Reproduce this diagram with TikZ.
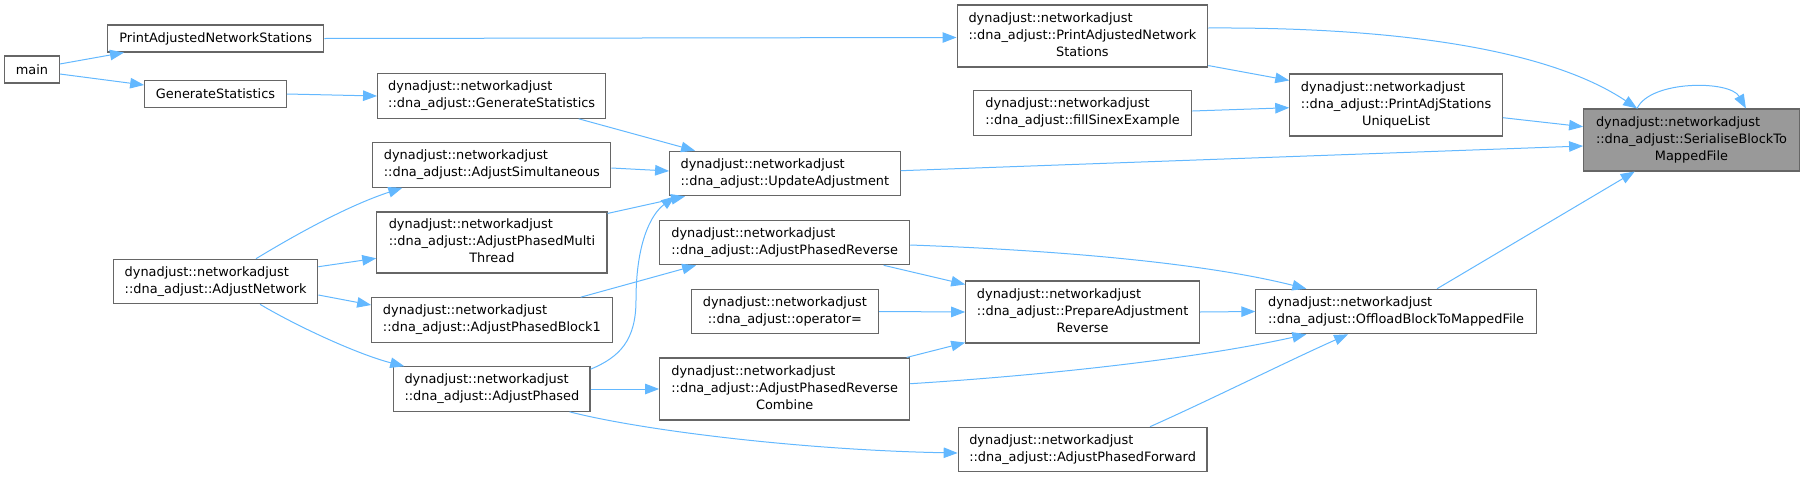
\documentclass[tikz,border=0pt]{standalone}
\usepackage{fontspec}
\setmainfont{DejaVu Sans}
\usetikzlibrary{arrows.meta}

% Texto de nodo: lineas a la izquierda, la ultima centrada
\newcommand{\fntwo}[2]{\begin{tabular}{@{}l@{}}#1\\\multicolumn{1}{@{}c@{}}{#2}\end{tabular}}
\newcommand{\fnthree}[3]{\begin{tabular}{@{}l@{}}#1\\#2\\\multicolumn{1}{@{}c@{}}{#3}\end{tabular}}

\begin{document}
\begin{tikzpicture}[x=1pt, y=-1pt,
    fnbox/.style={draw=dxgray, line width=1.1pt, fill=white, inner sep=0pt,
        font=\fontsize{12.9pt}{17pt}\selectfont},
    oneline/.style={minimum height=27pt},
    twoline/.style={minimum height=44.5pt},
    threeline/.style={minimum height=62pt},
    call/.style={draw=dxblue, line width=1pt, -{Triangle[length=14pt, width=10.5pt]}}
]

% Colores
\definecolor{dxblue}{HTML}{63B8FF}
\definecolor{dxgray}{HTML}{666666}
\definecolor{dxfill}{HTML}{999999}

\useasboundingbox (0,0) rectangle (1804,477);

% ============ Columna 1 y 2 ============
\node[fnbox, oneline, minimum width=54.6pt] (main) at (32,69.5) {main};
\node[fnbox, oneline, minimum width=216.3pt] (pans) at (215.7,38.5) {PrintAdjustedNetworkStations};
\node[fnbox, oneline, minimum width=141.6pt] (gs) at (215.5,94) {GenerateStatistics};
\node[fnbox, twoline, minimum width=204.4pt] (dnet) at (215.7,281.5)
    {\fntwo{dynadjust::networkadjust}{::dna\_adjust::AdjustNetwork}};

% ============ Columna 3 ============
\node[fnbox, twoline, minimum width=228.2pt] (dgs) at (491.7,96)
    {\fntwo{dynadjust::networkadjust}{::dna\_adjust::GenerateStatistics}};
\node[fnbox, twoline, minimum width=238pt] (dsim) at (491.9,165)
    {\fntwo{dynadjust::networkadjust}{::dna\_adjust::AdjustSimultaneous}};
\node[fnbox, threeline, minimum width=230.2pt, minimum height=61pt] (dmulti) at (491.9,242.5)
    {\fnthree{dynadjust::networkadjust}{::dna\_adjust::AdjustPhasedMulti}{Thread}};
\node[fnbox, twoline, minimum width=240.4pt] (dblock1) at (491.9,320)
    {\fntwo{dynadjust::networkadjust}{::dna\_adjust::AdjustPhasedBlock1}};
\node[fnbox, twoline, minimum width=196.2pt] (dphased) at (491.9,389)
    {\fntwo{dynadjust::networkadjust}{::dna\_adjust::AdjustPhased}};

% ============ Columna 4 ============
\node[fnbox, twoline, minimum width=230.5pt] (dupd) at (784.9,173.5)
    {\fntwo{dynadjust::networkadjust}{::dna\_adjust::UpdateAdjustment}};
\node[fnbox, twoline, minimum width=250pt] (drev) at (784.7,242.5)
    {\fntwo{dynadjust::networkadjust}{::dna\_adjust::AdjustPhasedReverse}};
\node[fnbox, twoline, minimum width=187.1pt] (dop) at (784.9,311.5)
    {\fntwo{dynadjust::networkadjust}{::dna\_adjust::operator=}};
\node[fnbox, threeline, minimum width=250pt] (dcomb) at (784.7,389)
    {\fnthree{dynadjust::networkadjust}{::dna\_adjust::AdjustPhasedReverse}{Combine}};

% ============ Columna 5 ============
\node[fnbox, threeline, minimum width=250.7pt] (dpans) at (1082.4,36)
    {\fnthree{dynadjust::networkadjust}{::dna\_adjust::PrintAdjustedNetwork}{Stations}};
\node[fnbox, twoline, minimum width=218.6pt] (dfill) at (1082.6,113)
    {\fntwo{dynadjust::networkadjust}{::dna\_adjust::fillSinexExample}};
\node[fnbox, threeline, minimum width=233.7pt] (dprep) at (1082.6,312)
    {\fnthree{dynadjust::networkadjust}{::dna\_adjust::PrepareAdjustment}{Reverse}};
\node[fnbox, twoline, minimum width=248.8pt] (dfwd) at (1082.6,449.5)
    {\fntwo{dynadjust::networkadjust}{::dna\_adjust::AdjustPhasedForward}};

% ============ Columnas 6 y 7 ============
\node[fnbox, threeline, minimum width=212.6pt] (duniq) at (1396.1,105)
    {\fnthree{dynadjust::networkadjust}{::dna\_adjust::PrintAdjStations}{UniqueList}};
\node[fnbox, twoline, minimum width=280.4pt] (doff) at (1396.1,311.5)
    {\fntwo{dynadjust::networkadjust}{::dna\_adjust::OffloadBlockToMappedFile}};
\node[fnbox, threeline, minimum width=215.7pt, fill=dxfill] (dser) at (1691.5,140)
    {\fnthree{dynadjust::networkadjust}{::dna\_adjust::SerialiseBlockTo}{MappedFile}};

% Llamadas desde main
\draw[call] ([yshift=5.5pt]main.east) -- ([xshift=17pt]pans.south west);
\draw[call] ([yshift=-4.5pt]main.east) -- ([yshift=9pt]gs.west);
\draw[call] (pans.east) -- ([yshift=-1.5pt]dpans.west);
\draw[call] (gs.east) -- (dgs.west);

% Llamadas desde AdjustNetwork
\draw[call] ([xshift=40.3pt]dnet.north) .. controls (300,232) and (350,205) .. ([xshift=30pt]dsim.south west);
\draw[call] ([yshift=14.8pt]dnet.east) -- ([yshift=-15.8pt]dmulti.west);
\draw[call] ([yshift=-13.5pt]dnet.east) -- ([yshift=15pt]dblock1.west);
\draw[call] ([xshift=44.3pt]dnet.south) .. controls (300,328) and (360,355) .. ([xshift=11pt]dphased.north west);

% Hacia UpdateAdjustment
\draw[call] ([xshift=87pt]dgs.south) -- ([xshift=26pt]dupd.north west);
\draw[call] ([yshift=-3pt]dsim.east) -- ([yshift=2.5pt]dupd.west);
\draw[call] ([yshift=-2pt]dmulti.north east) -- ([xshift=16pt]dupd.south west);
\draw[call] ([yshift=-3pt]dphased.north east) .. controls (620,357) and (636,340) .. (636,300)
    .. controls (636,245) and (650,215) .. ([xshift=6pt]dupd.south west);

% Fases inversa, combinada y directa
\draw[call] ([xshift=-32pt]dblock1.north east) -- ([xshift=37pt]drev.south west);
\draw[call] (dphased.east) -- (dcomb.west);
\draw[call] ([xshift=-21pt]dphased.south east) .. controls (640,430) and (800,450) .. ([yshift=-3.5pt]dfwd.west);
\draw[call] ([xshift=-26.6pt]drev.south east) -- ([yshift=-4pt]dprep.north west);
\draw[call] (dop.east) -- (dprep.west);
\draw[call] ([xshift=-3.6pt]dcomb.north east) -- ([yshift=1pt]dprep.south west);

% Hacia OffloadBlockToMappedFile
\draw[call] ([yshift=-2.5pt]drev.east) .. controls (1050,250) and (1200,262) .. ([xshift=51pt]doff.north west);
\draw[call] (dprep.east) -- (doff.west);
\draw[call] ([yshift=5.3pt]dcomb.east) .. controls (1050,375) and (1200,358) .. ([xshift=51pt]doff.south west);
\draw[call] ([xshift=67.4pt]dfwd.north) .. controls (1210,400) and (1290,360) .. ([xshift=-48pt]doff.south);

% Hacia SerialiseBlockToMappedFile
\draw[call] ([yshift=8pt]dpans.east) .. controls (1400,27) and (1550,50) .. ([xshift=54pt]dser.north west);
\draw[call] ([yshift=2pt]dpans.south east) -- ([yshift=-7pt]duniq.north west);
\draw[call] ([yshift=2pt]dfill.east) -- ([yshift=-2.7pt]duniq.west);
\draw[call] ([yshift=-12.7pt]duniq.east) -- ([yshift=13.3pt]dser.west);
\draw[call] ([yshift=2.8pt]dupd.east) -- ([yshift=-6pt]dser.west);
\draw[call] ([xshift=41pt]doff.north) -- ([xshift=51.6pt]dser.south west);
\draw[call] ([xshift=54pt]dser.north west) .. controls (1650,80) and (1730,80) .. ([xshift=-54pt]dser.north east);

\end{tikzpicture}
\end{document}
